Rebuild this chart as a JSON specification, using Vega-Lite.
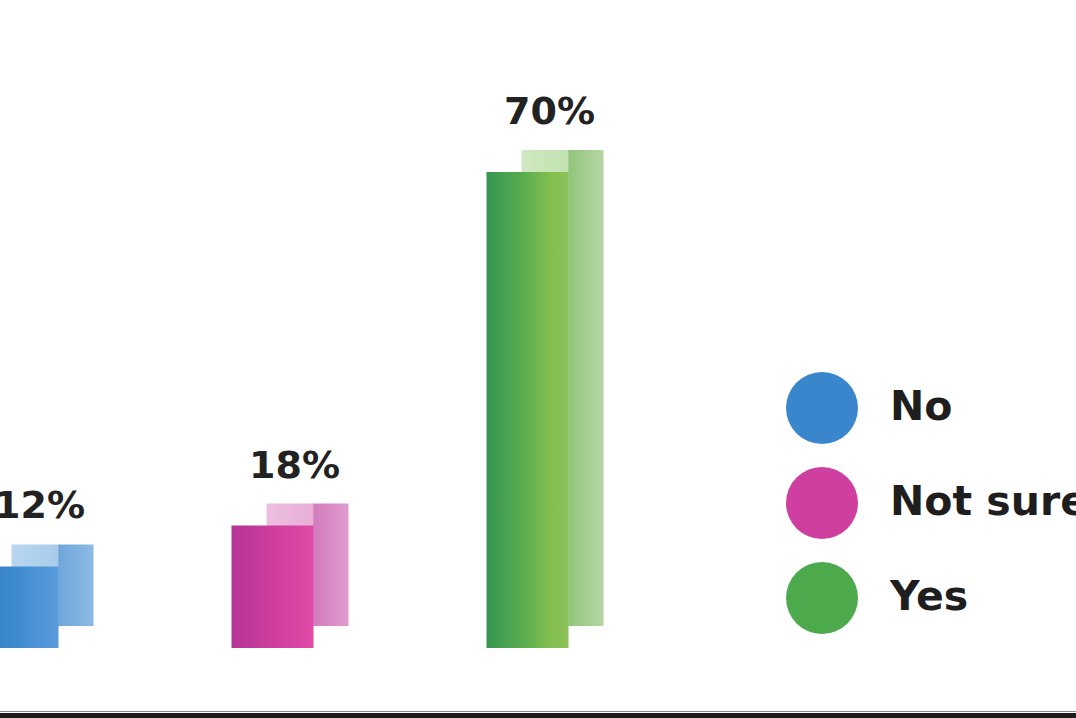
{
  "$schema": "https://vega.github.io/schema/vega-lite/v6.json",
  "width": 1076,
  "height": 718,
  "padding": 0,
  "autosize": "none",
  "background": "#ffffff",
  "config": {"view": {"stroke": null}},
  "data": {"values": [
    {"answer": "No", "pct": 12, "label": "12%"},
    {"answer": "Not sure", "pct": 18, "label": "18%"},
    {"answer": "Yes", "pct": 70, "label": "70%"}
  ]},
  "layer": [
    {
      "encoding": {
        "x": {"field": "answer", "type": "nominal", "axis": null, "sort": null,
              "scale": {"type": "band", "domain": ["No", "Not sure", "Yes"], "range": [-110, 655], "paddingInner": 0, "paddingOuter": 0}},
        "y": {"field": "pct", "type": "quantitative", "axis": null,
              "scale": {"domain": [0, 100], "range": [648, -32], "zero": true}}
      },
      "layer": [
        {
          "transform": [{"filter": "datum.answer == 'No'"}],
          "mark": {"type": "bar", "width": 82, "xOffset": 35, "yOffset": -22, "y2Offset": -11,
            "fill": {"gradient": "linear", "x1": 0, "y1": 0, "x2": 1, "y2": 0,
              "stops": [{"offset": 0, "color": "#b9d6ef"}, {"offset": 0.57, "color": "#a9cbeb"}, {"offset": 0.575, "color": "#6fa6da"}, {"offset": 1, "color": "#8cbbe4"}]}}
        },
        {
          "transform": [{"filter": "datum.answer == 'Not sure'"}],
          "mark": {"type": "bar", "width": 82, "xOffset": 35, "yOffset": -22, "y2Offset": -11,
            "fill": {"gradient": "linear", "x1": 0, "y1": 0, "x2": 1, "y2": 0,
              "stops": [{"offset": 0, "color": "#eebfe0"}, {"offset": 0.57, "color": "#e8aed6"}, {"offset": 0.575, "color": "#d47cbc"}, {"offset": 1, "color": "#e09cd0"}]}}
        },
        {
          "transform": [{"filter": "datum.answer == 'Yes'"}],
          "mark": {"type": "bar", "width": 82, "xOffset": 35, "yOffset": -22, "y2Offset": -11,
            "fill": {"gradient": "linear", "x1": 0, "y1": 0, "x2": 1, "y2": 0,
              "stops": [{"offset": 0, "color": "#d0e9c2"}, {"offset": 0.57, "color": "#c2e2b0"}, {"offset": 0.575, "color": "#92c47c"}, {"offset": 1, "color": "#b6d6a4"}]}}
        },
        {
          "transform": [{"filter": "datum.answer == 'No'"}],
          "mark": {"type": "bar", "width": 82,
            "fill": {"gradient": "linear", "x1": 0, "y1": 0, "x2": 1, "y2": 0,
              "stops": [{"offset": 0, "color": "#2d7dbf"}, {"offset": 0.5, "color": "#3f8bcf"}, {"offset": 1, "color": "#5a9cdb"}]}}
        },
        {
          "transform": [{"filter": "datum.answer == 'Not sure'"}],
          "mark": {"type": "bar", "width": 82,
            "fill": {"gradient": "linear", "x1": 0, "y1": 0, "x2": 1, "y2": 0,
              "stops": [{"offset": 0, "color": "#b53596"}, {"offset": 0.6, "color": "#d23f9f"}, {"offset": 1, "color": "#e04aa8"}]}}
        },
        {
          "transform": [{"filter": "datum.answer == 'Yes'"}],
          "mark": {"type": "bar", "width": 82,
            "fill": {"gradient": "linear", "x1": 0, "y1": 0, "x2": 1, "y2": 0,
              "stops": [{"offset": 0, "color": "#369650"}, {"offset": 0.4, "color": "#55aa50"}, {"offset": 0.8, "color": "#84bf4f"}, {"offset": 1, "color": "#8cc25a"}]}}
        },
        {
          "mark": {"type": "text", "dx": 22, "dy": -48, "baseline": "alphabetic", "align": "center",
            "font": "DejaVu Sans", "fontSize": 38, "fontWeight": "bold", "color": "#222222"},
          "encoding": {"text": {"field": "label"}}
        },
        {
          "mark": {"type": "point", "filled": true, "opacity": 0, "shape": "circle"},
          "encoding": {
            "color": {"field": "answer", "type": "nominal",
              "scale": {"domain": ["No", "Not sure", "Yes"], "range": ["#3a86cc", "#cf3f9f", "#4caa4c"]},
              "legend": {"title": null, "orient": "none", "legendX": 786, "legendY": 372, "padding": 0,
                "symbolType": "circle", "symbolSize": 5184, "symbolOpacity": 1, "symbolStrokeWidth": 0,
                "labelFont": "DejaVu Sans", "labelFontSize": 41, "labelFontWeight": "bold", "labelColor": "#1e1e1e",
                "labelOffset": 32, "rowPadding": 23, "labelLimit": 400}}
          }
        }
      ]
    },
    {
      "mark": {"type": "rule", "color": "#8a8a8a", "strokeWidth": 1},
      "encoding": {"y": {"datum": -9.34, "type": "quantitative", "axis": null}}
    },
    {
      "mark": {"type": "rule", "color": "#1c1c1c", "strokeWidth": 5},
      "encoding": {"y": {"datum": -9.93, "type": "quantitative", "axis": null}}
    }
  ]
}
